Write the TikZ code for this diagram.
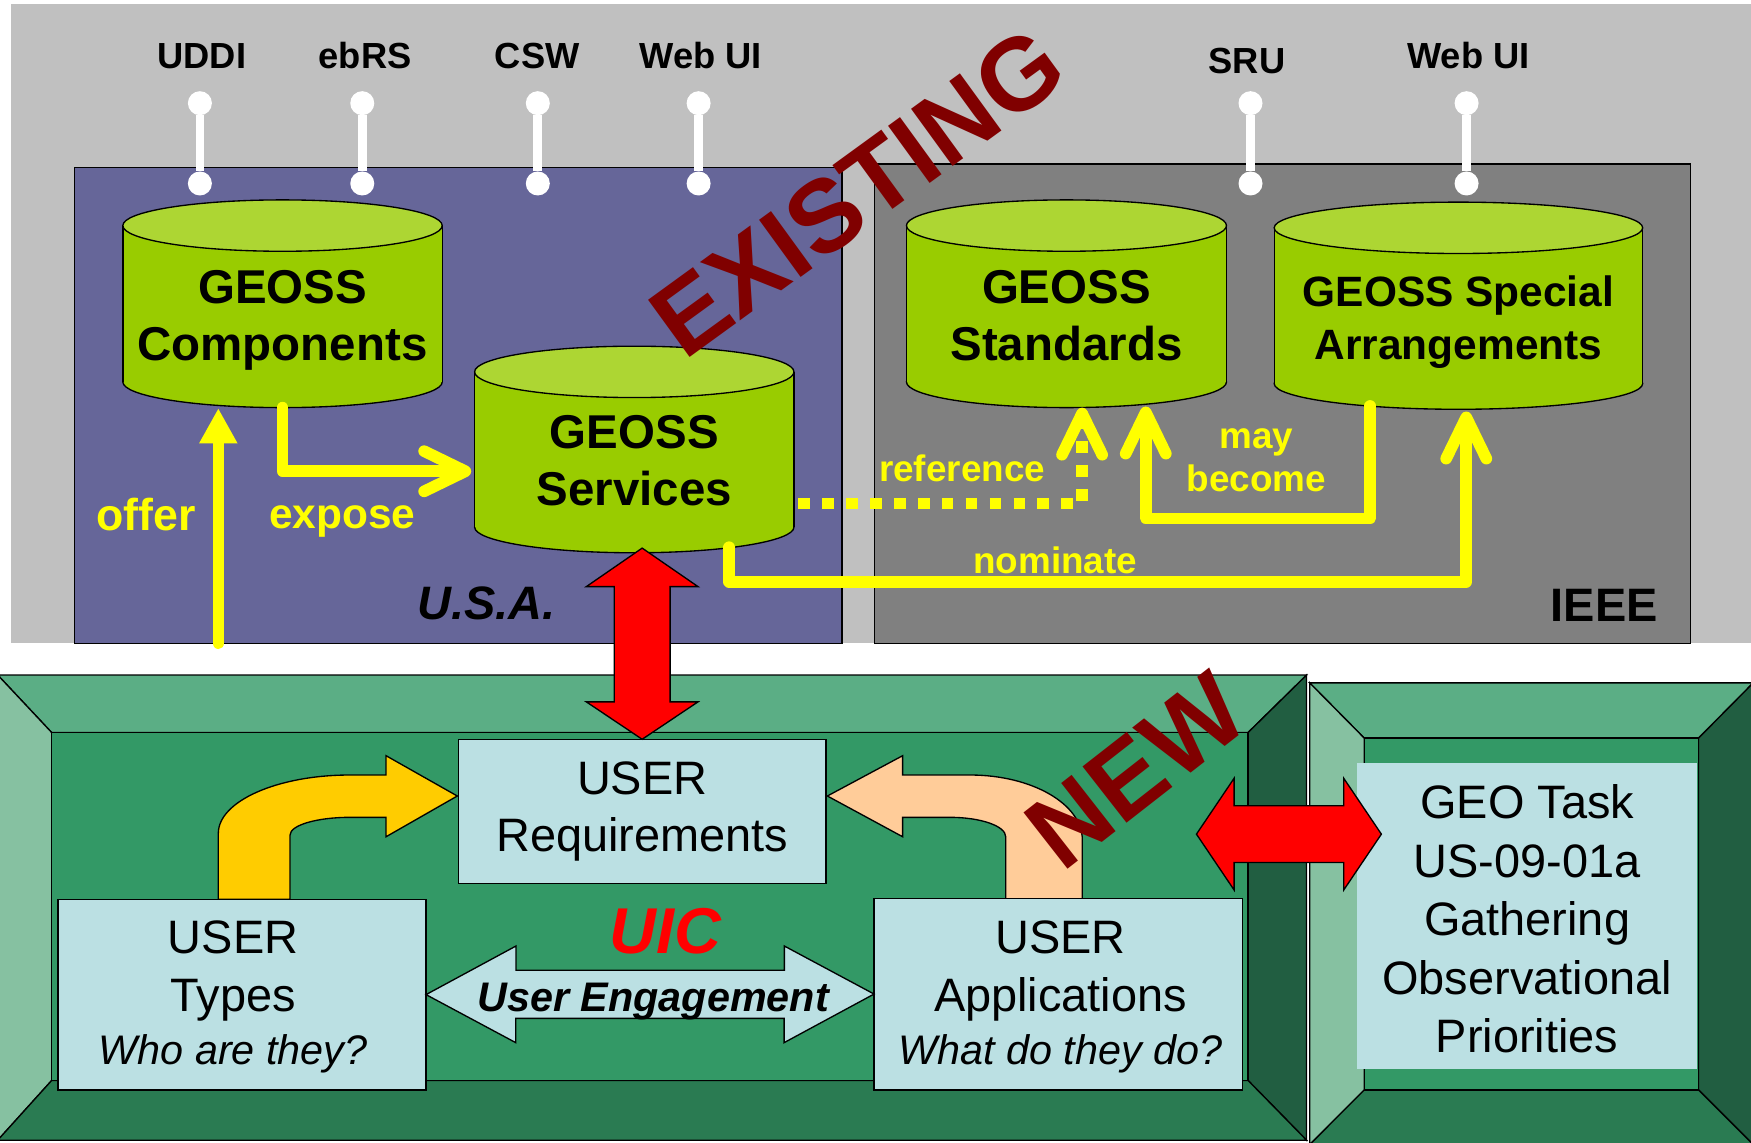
\documentclass[tikz,border=0pt]{standalone}
\usepackage{fontspec}
\setmainfont{Liberation Sans}
\usetikzlibrary{positioning,calc,arrows.meta}

\definecolor{bggray}{HTML}{C0C0C0}
\definecolor{usablue}{HTML}{666699}
\definecolor{ieeegray}{HTML}{808080}
\definecolor{dbgreen}{HTML}{99CC00}
\definecolor{dblight}{HTML}{ADD633}
\definecolor{flowyellow}{HTML}{FFFF00}
\definecolor{stampred}{HTML}{800000}
\definecolor{uicgreen}{HTML}{339966}
\definecolor{bevtop}{HTML}{5BAE85}
\definecolor{bevleft}{HTML}{86C1A1}
\definecolor{bevright}{HTML}{215E41}
\definecolor{bevbottom}{HTML}{2A7B52}
\definecolor{userblue}{HTML}{BBE0E3}
\definecolor{typesgold}{HTML}{FFCC00}
\definecolor{appspeach}{HTML}{FFCC99}

\tikzset{
  panel/.style={draw=black, line width=1.2pt, inner sep=0pt, outer sep=0pt},
  iflabel/.style={font=\fontsize{32.5}{39}\selectfont\bfseries},
  plug/.style={circle, fill=white, inner sep=0pt, minimum size=21.5pt},
  plugline/.style={draw=white, line width=7.8pt},
  dbbody/.style={rectangle, fill=dbgreen, inner sep=0pt, outer sep=0pt},
  dbbase/.style={fill=dbgreen, draw=black, line width=1.2pt},
  dbend/.style={fill=dblight, draw=black, line width=1.2pt},
  dbside/.style={draw=black, line width=1.2pt},
  dbtext/.style={align=center, inner sep=0pt, font=\fontsize{42.5}{51.5}\selectfont\bfseries},
  flow/.style={draw=flowyellow, line width=10.4pt, line cap=round, line join=round},
  chev/.style={-{Straight Barb[length=37pt, width=36pt, round]}},
  flowtext/.style={text=flowyellow, align=center, inner sep=0pt, font=\fontsize{33}{38.8}\selectfont\bfseries},
  boxlabel/.style={inner sep=0pt, font=\fontsize{42}{50}\selectfont\bfseries},
  bevel/.style={draw=black, line width=1.2pt, line join=miter},
  userbox/.style={draw=black, fill=userblue, line width=1.2pt, inner sep=0pt, outer sep=0pt},
  usertext/.style={align=center, inner sep=0pt, font=\fontsize{42}{51.4}\selectfont},
  blockarrow/.style={draw=black, line width=1.2pt, line join=miter},
  engtext/.style={inner sep=0pt, font=\fontsize{37}{44}\selectfont\bfseries\itshape},
  uictext/.style={text=red, inner sep=0pt, font=\fontsize{58}{70}\selectfont\bfseries\itshape},
  stamp/.style={text=stampred, inner sep=0pt, font=\fontsize{92}{110}\selectfont\bfseries}
}

\begin{document}
\begin{tikzpicture}[x=1pt, y=-1pt]
  \useasboundingbox (0,0) rectangle (1568,1023);
  \fill[white] (0,0) rectangle (1568,1023);

  % Existing systems
  \fill[bggray] (10,4) rectangle (1570,576);
  \node[panel, fill=usablue, minimum width=687pt, minimum height=426pt] (usa) at (410.5,363) {};
  \node[panel, fill=ieeegray, minimum width=731pt, minimum height=429pt] (ieee) at (1148.5,361.5) {};

  % Interfaces
  \node[iflabel] (uddi) at (180.7,50) {UDDI};
  \node[iflabel] (ebrs) at (327,50) {ebRS};
  \node[iflabel] (csw) at (481,50) {CSW};
  \node[iflabel] (webui) at (627.6,50) {Web UI};
  \node[iflabel] (sru) at (1116.7,54.3) {SRU};
  \node[iflabel] (webui2) at (1315,50) {Web UI};

  \node[plug] (uddi-t) at (179,92.4) {};
  \node[plug] (ebrs-t) at (324.4,92.4) {};
  \node[plug] (csw-t) at (481.6,92.4) {};
  \node[plug] (webui-t) at (625.6,92.4) {};
  \node[plug] (sru-t) at (1119.8,92.4) {};
  \node[plug] (webui2-t) at (1313.3,92.4) {};
  \node[plug, below=50pt of uddi-t] (uddi-b) {};
  \node[plug, below=50pt of ebrs-t] (ebrs-b) {};
  \node[plug, below=50pt of csw-t] (csw-b) {};
  \node[plug, below=50pt of webui-t] (webui-b) {};
  \node[plug, below=50pt of sru-t] (sru-b) {};
  \node[plug, below=50pt of webui2-t] (webui2-b) {};
  \draw[plugline] (uddi-t) -- (uddi-b);
  \draw[plugline] (ebrs-t) -- (ebrs-b);
  \draw[plugline] (csw-t) -- (csw-b);
  \draw[plugline] (webui-t) -- (webui-b);
  \draw[plugline] (sru-t) -- (sru-b);
  \draw[plugline] (webui2-t) -- (webui2-b);

  % Databases
  \draw[dbbase] (253,342) ellipse (143 and 23);
  \node[dbbody, minimum width=286pt, minimum height=140pt] (comp) at (253,272) {};
  \draw[dbside] (comp.north west) -- (comp.south west) (comp.north east) -- (comp.south east);
  \draw[dbend] (comp.north) ellipse (143 and 23);
  \node[dbtext, below=39.5pt of comp.north] (comp-t) {GEOSS\\Components};

  \draw[dbbase] (568,472) ellipse (143 and 23);
  \node[dbbody, minimum width=286pt, minimum height=139pt] (serv) at (568,402.5) {};
  \draw[dbside] (serv.north west) -- (serv.south west) (serv.north east) -- (serv.south east);
  \draw[dbend] (serv.north) ellipse (143 and 23);
  \node[dbtext, below=38.5pt of serv.north] (serv-t) {GEOSS\\Services};

  \draw[dbbase] (955,342) ellipse (143.3 and 23);
  \node[dbbody, minimum width=286.6pt, minimum height=140pt] (std) at (955,272) {};
  \draw[dbside] (std.north west) -- (std.south west) (std.north east) -- (std.south east);
  \draw[dbend] (std.north) ellipse (143.3 and 23);
  \node[dbtext, below=39.5pt of std.north] (std-t) {GEOSS\\Standards};

  \draw[dbbase] (1306,343.5) ellipse (165 and 23);
  \node[dbbody, minimum width=330pt, minimum height=139.5pt] (spec) at (1306,273.75) {};
  \draw[dbside] (spec.north west) -- (spec.south west) (spec.north east) -- (spec.south east);
  \draw[dbend] (spec.north) ellipse (165 and 23);
  \node[dbtext, below=43pt of spec.north, font=\fontsize{38}{47.4}\selectfont\bfseries] (spec-t) {GEOSS Special\\Arrangements};

  % Flows between the catalogues
  \draw[flow, -{Triangle[length=31.5pt, width=32pt]}] ($(usa.south west)+(128.5,0)$) -- ($(comp.south)+(-57.5,23.5)$);
  \draw[flow, chev] ($(comp.south)+(0,23)$) |- ($(serv.west)+(-3,19.5)$);
  \draw[flow, chev, line cap=butt, dash pattern=on 10.4pt off 11pt] ($(serv.east)+(4,48.5)$) -| ($(std.south)+(14,23)$);
  \draw[flow, chev] ($(spec.south)+(-79,20)$) -- ++(0,100.7) -| ($(std.south)+(71,22)$);
  \draw[flow, chev] ($(serv.south)+(85,18)$) -- ++(0,31) -| ($(spec.south)+(7,25)$);

  \node[flowtext, font=\fontsize{40}{48}\selectfont\bfseries] (offer) at (131,461) {offer};
  \node[flowtext, font=\fontsize{38}{46}\selectfont\bfseries] (expose) at (306.4,467) {expose};
  \node[flowtext] (reference) at (861.5,419.5) {reference};
  \node[flowtext] (maybecome) at (1125,412) {may\\become};
  \node[flowtext] (nominate) at (945,502) {nominate};

  \node[boxlabel, font=\fontsize{42}{50}\selectfont\bfseries\itshape] (usa-l) at (435.6,540.5) {U.S.A.};
  \node[boxlabel] (ieee-l) at (1436.5,542.5) {IEEE};

  % UIC frame
  \filldraw[bevel, fill=bevtop] (-2,604.5) -- (1170,604.5) -- (1117.6,656) -- (46.3,656) -- cycle;
  \filldraw[bevel, fill=bevleft] (-2,604.5) -- (46.3,656) -- (46.3,967.5) -- (-2,1021) -- cycle;
  \filldraw[bevel, fill=bevright] (1170,604.5) -- (1170,1021) -- (1117.6,967.5) -- (1117.6,656) -- cycle;
  \filldraw[bevel, fill=bevbottom] (-2,1021) -- (46.3,967.5) -- (1117.6,967.5) -- (1170,1021) -- cycle;
  \filldraw[bevel, fill=uicgreen] (46.3,656) rectangle (1117.6,967.5);

  % GEO task frame
  \filldraw[bevel, fill=bevtop] (1172.8,611.5) -- (1570,611.5) -- (1521,661) -- (1221.7,661) -- cycle;
  \filldraw[bevel, fill=bevleft] (1172.8,611.5) -- (1221.7,661) -- (1221.7,976) -- (1172.8,1025) -- cycle;
  \filldraw[bevel, fill=bevright] (1570,611.5) -- (1570,1025) -- (1521,976) -- (1521,661) -- cycle;
  \filldraw[bevel, fill=bevbottom] (1172.8,1025) -- (1221.7,976) -- (1521,976) -- (1570,1025) -- cycle;
  \filldraw[bevel, fill=uicgreen] (1221.7,661) rectangle (1521,976);
  \node[fill=userblue, inner sep=0pt, minimum width=305pt, minimum height=274pt] (geo) at (1367.5,820.25) {};
  \node[usertext, below=19.3pt of geo.north, font=\fontsize{42}{52.4}\selectfont] (geo-t) {GEO Task\\US-09-01a\\Gathering\\Observational\\Priorities};

  % Curved arrows into the requirements
  \filldraw[blockarrow, fill=typesgold] (195.5,805.3) -- (195.5,746.2) .. controls (195.5,717.5) and (248.3,694) .. (313.4,694)
    -- (345.7,694) -- (345.7,676.7) -- (409.5,712.8) -- (345.7,749.3) -- (345.7,731.9) -- (313.4,731.9)
    .. controls (283.6,731.9) and (259.7,739) .. (259.7,747.8) -- (259.7,805.3) -- cycle;
  \filldraw[blockarrow, fill=appspeach] (969.2,805.3) -- (969.2,752) .. controls (969.2,720) and (924.1,694) .. (868.6,694)
    -- (808.3,694) -- (808.3,676.7) -- (740.9,712.8) -- (808.3,749.3) -- (808.3,731.9) -- (850.7,731.9)
    .. controls (878.2,731.9) and (900.6,739.7) .. (900.6,749.3) -- (900.6,805.3) -- cycle;

  % User boxes
  \node[userbox, minimum width=329.3pt, minimum height=129pt] (req) at (575.05,726.5) {};
  \node[userbox, minimum width=329.5pt, minimum height=170.7pt] (types) at (216.75,890.65) {};
  \node[userbox, minimum width=330pt, minimum height=171.7pt] (apps) at (947.7,890.15) {};
  \node[usertext, below=19.7pt of req.north] (req-t) {USER\\Requirements};
  \node[usertext, below=19.1pt of types.north, xshift=-8pt] (types-t) {USER\\Types\\[-3.5pt]{\fontsize{37}{44}\selectfont\itshape Who are they?}};
  \node[usertext, below=20.1pt of apps.north, xshift=2pt] (apps-t) {USER\\Applications\\[-3.5pt]{\fontsize{37}{44}\selectfont\itshape What do they do?}};

  % User engagement
  \filldraw[blockarrow, fill=userblue] (types.east) -- ++(80.5,-43.5) -- ++(0,21.7) -- ++(240.4,0) -- ++(0,-21.7)
    -- (apps.west) -- ++(-80.5,43.5) -- ++(0,-21.7) -- ++(-240.4,0) -- ++(0,21.7) -- cycle;
  \node[engtext] (eng) at (585,897) {User Engagement};
  \node[uictext] (uic) at (596,834) {UIC};

  % Links between old and new
  \filldraw[blockarrow, fill=red] (req.north) -- ++(-50,-33.5) -- ++(25,0) -- ++(0,-103.2) -- ++(-25,0) -- ++(50,-34.5)
    -- ++(50,34.5) -- ++(-25,0) -- ++(0,103.2) -- ++(25,0) -- cycle;
  \coordinate (taskport) at ($(geo.west)+(22.2,-73.3)$);
  \filldraw[blockarrow, fill=red] (taskport) -- ++(-33.7,-50) -- ++(0,24.6) -- ++(-98.2,0) -- ++(0,-24.6) -- ++(-33.7,50)
    -- ++(33.7,50) -- ++(0,-24.6) -- ++(98.2,0) -- ++(0,24.6) -- cycle;

  % Stamps
  \node[stamp, rotate=36] (existing) at (768,172) {EXISTING};
  \node[stamp, rotate=38, font=\fontsize{93}{110}\selectfont\bfseries] (new) at (1017.6,690) {NEW};
\end{tikzpicture}
\end{document}
